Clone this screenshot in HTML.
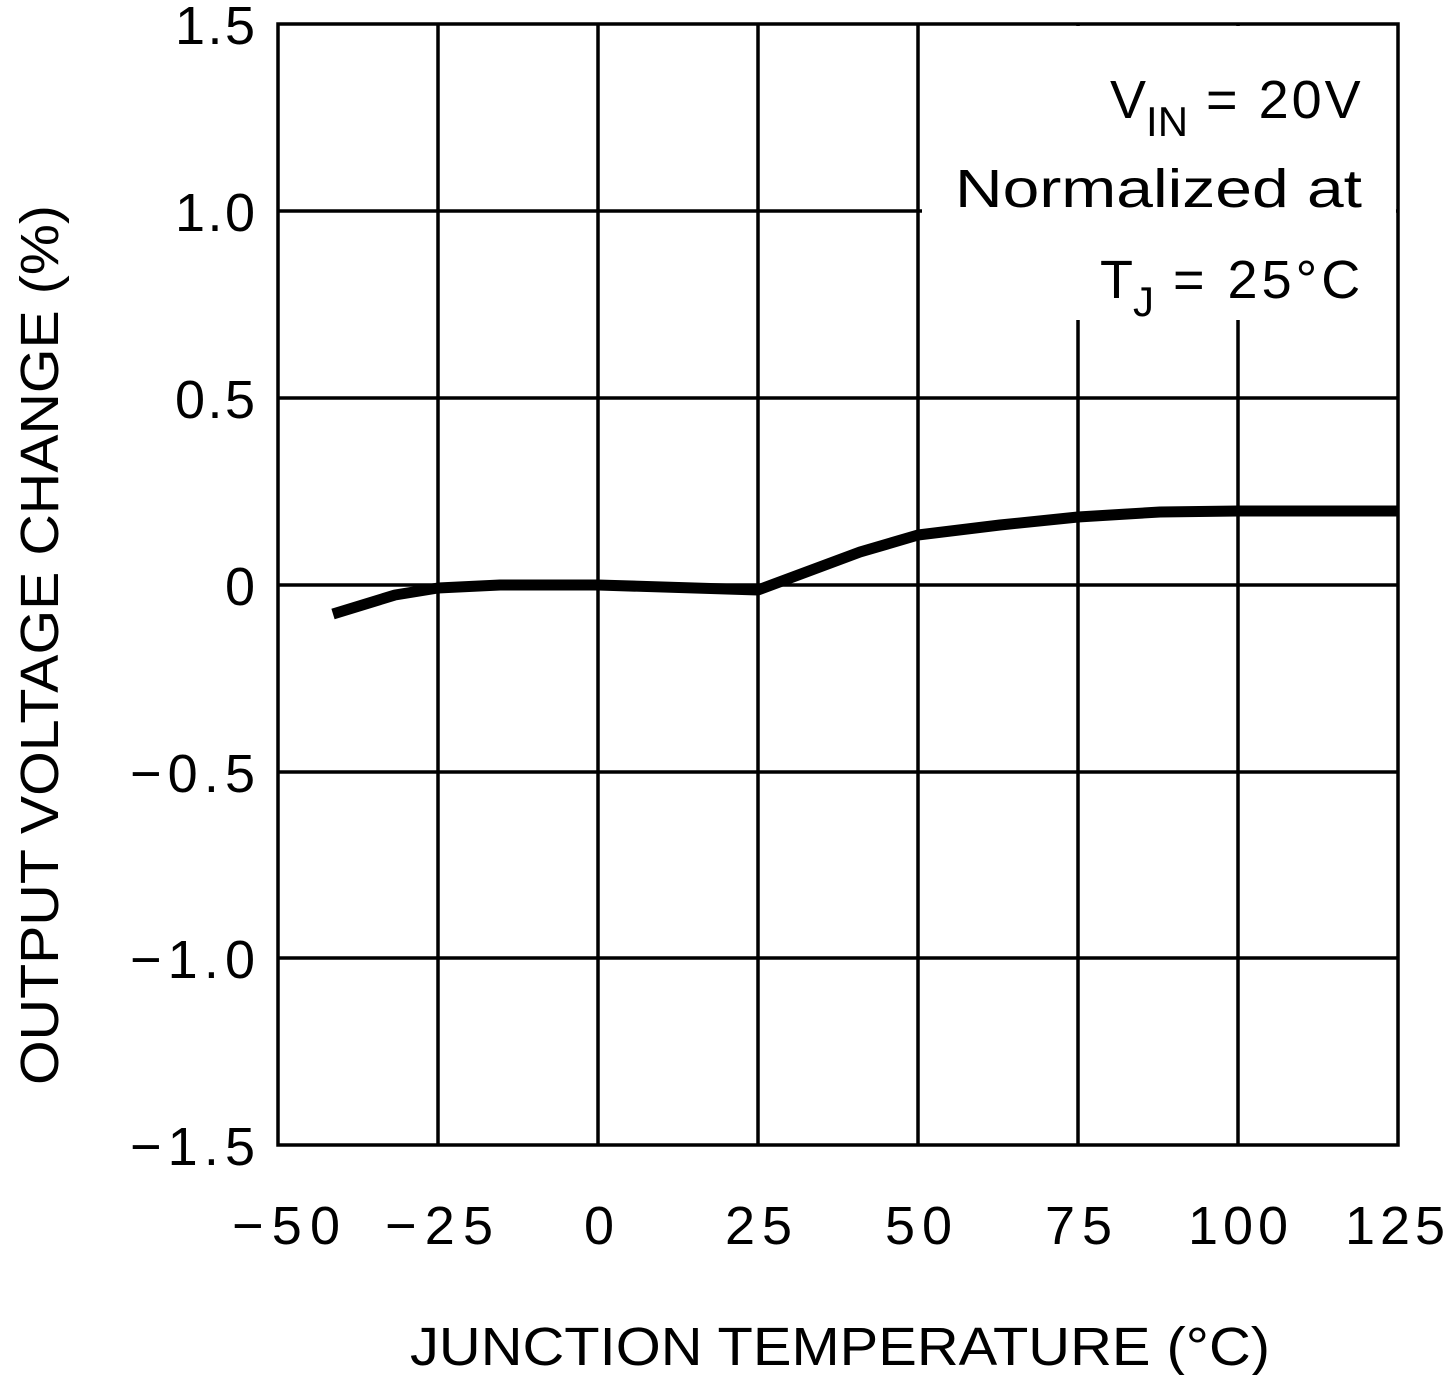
<!DOCTYPE html>
<html><head><style>
body{margin:0;background:#fff}
svg text{font-family:"Liberation Sans",sans-serif;fill:#000}
</style></head><body>
<svg width="1446" height="1375" xmlns="http://www.w3.org/2000/svg">
<g stroke="#000" stroke-width="3.5" fill="none">
<rect x="278" y="24" width="1120" height="1121"/>
<line x1="438" y1="24" x2="438" y2="1145"/>
<line x1="598" y1="24" x2="598" y2="1145"/>
<line x1="758" y1="24" x2="758" y2="1145"/>
<line x1="918" y1="24" x2="918" y2="1145"/>
<line x1="1078" y1="24" x2="1078" y2="1145"/>
<line x1="1238" y1="24" x2="1238" y2="1145"/>
<line x1="278" y1="211" x2="1398" y2="211"/>
<line x1="278" y1="398" x2="1398" y2="398"/>
<line x1="278" y1="585" x2="1398" y2="585"/>
<line x1="278" y1="772" x2="1398" y2="772"/>
<line x1="278" y1="958" x2="1398" y2="958"/>
</g>
<rect x="922" y="26" width="474" height="294" fill="#fff"/>
<polyline fill="none" stroke="#000" stroke-width="11" stroke-linejoin="round" points="333,614 395,595 438,588 500,585 598,585 758,590 860,552 918,535 1000,525 1078,517 1160,512 1238,511 1398,511"/>
<g font-size="54" lengthAdjust="spacingAndGlyphs">
<text x="175" y="44" textLength="80">1.5</text>
<text x="175" y="231" textLength="80">1.0</text>
<text x="175" y="418" textLength="80">0.5</text>
<text x="225" y="605" textLength="30">0</text>
<text x="130" y="792" textLength="125">−0.5</text>
<text x="130" y="978" textLength="125">−1.0</text>
<text x="130" y="1165" textLength="125">−1.5</text>
<text x="232" y="1244" textLength="108">−50</text>
<text x="385" y="1244" textLength="108">−25</text>
<text x="584" y="1244" textLength="28">0</text>
<text x="725" y="1244" textLength="67">25</text>
<text x="885" y="1244" textLength="67">50</text>
<text x="1045" y="1244" textLength="67">75</text>
<text x="1188" y="1244" textLength="100">100</text>
<text x="1345" y="1244" textLength="100">125</text>
</g>
<text x="840" y="1365" font-size="54" text-anchor="middle" textLength="860" lengthAdjust="spacingAndGlyphs">JUNCTION TEMPERATURE (°C)</text>
<text transform="translate(58,645) rotate(-90)" font-size="54" text-anchor="middle" textLength="880" lengthAdjust="spacingAndGlyphs">OUTPUT VOLTAGE CHANGE (%)</text>
<g font-size="54">
<text x="1110" y="118">V<tspan font-size="42" dy="18">IN</tspan><tspan dy="-18" letter-spacing="3"> = 20V</tspan></text>
<text x="955" y="207" textLength="407" lengthAdjust="spacingAndGlyphs">Normalized at</text>
<text x="1100" y="298">T<tspan font-size="42" dy="18">J</tspan><tspan dy="-18" letter-spacing="4"> = 25°C</tspan></text>
</g>
</svg>
</body></html>
